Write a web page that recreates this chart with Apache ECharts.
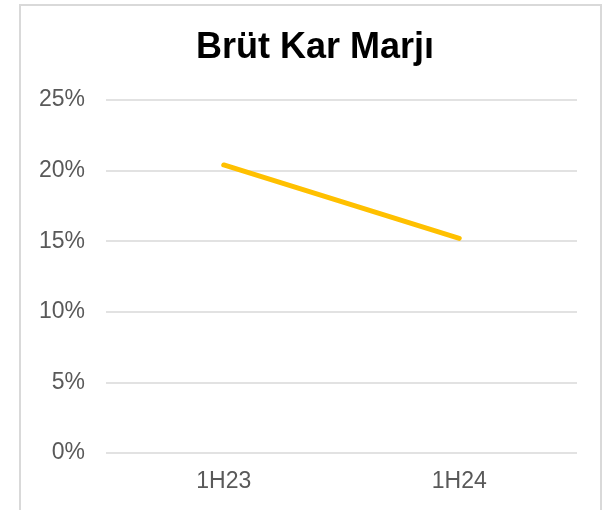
<!DOCTYPE html>
<html>
<head>
<meta charset="utf-8">
<script src="https://cdn.jsdelivr.net/npm/echarts@6/dist/echarts.min.js"></script>
<style>
  html, body { margin: 0; padding: 0; background: #fff; }
  #chart { width: 610px; height: 510px; }
</style>
</head>
<body>
<div id="chart"></div>
<script>
// data
const categories = ['1H23', '1H24']
const grossMargin = [20.4, 15.2]
const yTicks = [0, 5, 10, 15, 20, 25]

const chart = echarts.init(document.getElementById('chart'))

chart.setOption({
  backgroundColor: '#fff',
  animation: false,
  title: {
    text: 'Brüt Kar Marjı',
    left: 310,
    textAlign: 'center',
    top: 25,
    textStyle: {
      fontFamily: 'Liberation Sans',
      fontWeight: 'bold',
      fontSize: 36,
      color: '#000'
    }
  },
  graphic: [{
    type: 'rect',
    shape: { x: 20, y: 5, width: 581, height: 520 },
    style: { fill: 'none', stroke: '#d9d9d9', lineWidth: 2 },
    silent: true
  }],
  grid: {
    left: 106,
    right: 33,
    top: 100,
    bottom: 57
  },
  xAxis: {
    type: 'category',
    data: categories,
    boundaryGap: true,
    axisLine: { show: false },
    axisTick: { show: false },
    axisLabel: {
      margin: 17,
      color: '#595959',
      fontFamily: 'Liberation Sans',
      fontSize: 23
    }
  },
  yAxis: {
    type: 'value',
    min: yTicks[0],
    max: yTicks[yTicks.length - 1],
    interval: 5,
    axisLine: { show: false },
    axisTick: { show: false },
    splitLine: { lineStyle: { color: '#d9d9d9', width: 1.5 } },
    axisLabel: {
      margin: 21,
      color: '#595959',
      fontFamily: 'Liberation Sans',
      fontSize: 23,
      formatter: '{value}%'
    }
  },
  series: [{
    name: 'Brüt Kar Marjı',
    type: 'line',
    data: grossMargin,
    symbol: 'none',
    lineStyle: {
      color: '#FFC000',
      width: 5,
      cap: 'round'
    }
  }]
})
</script>
</body>
</html>
